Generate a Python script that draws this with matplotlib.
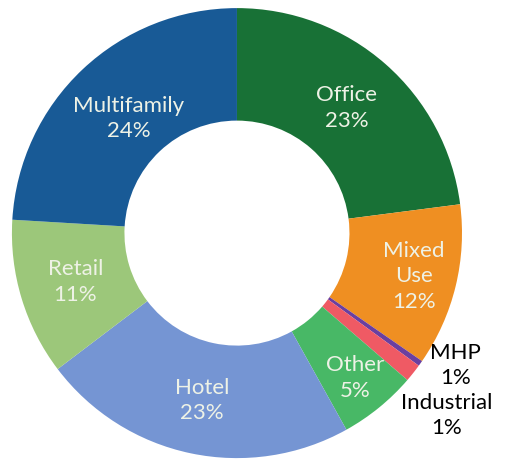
import numpy as np
import matplotlib.pyplot as plt
import matplotlib

matplotlib.rcParams['font.family'] = ['Lato', 'DejaVu Sans']

# slices, clockwise from 12 o'clock
categories = ['Office', 'Mixed\nUse', 'MHP', 'Industrial', 'Other', 'Hotel', 'Retail', 'Multifamily']
values = [23, 11.7, 0.4, 1.3, 5.6, 22.8, 11.3, 24.1]
pct_labels = ['23%', '12%', '1%', '1%', '5%', '23%', '11%', '24%']
colors = ['#187136', '#ef8f22', '#6a3fa0', '#ef5a64', '#48b866', '#7595d3', '#9cc77a', '#185a96']

fig = plt.figure(figsize=(5.07, 4.59), dpi=100)
ax = fig.add_axes([0, 0, 1, 1])

wedges, _ = ax.pie(values, colors=colors, startangle=90, counterclock=False,
                   radius=1, wedgeprops=dict(width=0.5, linewidth=0))

label_r = {0: 0.74, 1: 0.81, 4: 0.83, 5: 0.76, 6: 0.75, 7: 0.70}
for i, w in enumerate(wedges):
    if i not in label_r:
        continue
    ang = np.deg2rad((w.theta1 + w.theta2) / 2)
    r = label_r[i]
    ax.text(r * np.cos(ang), r * np.sin(ang), categories[i] + '\n' + pct_labels[i],
            ha='center', va='center', color='#eef2e6', fontsize=16, linespacing=1.35)

# the two thin slices get outside labels
ax.text(0.97, -0.59, categories[2] + '\n' + pct_labels[2], ha='center', va='center',
        color='black', fontsize=16, linespacing=1.3)
ax.text(0.93, -0.81, categories[3] + '\n' + pct_labels[3], ha='center', va='center',
        color='black', fontsize=16, linespacing=1.3)

ax.set_xlim(-1.053, 1.2)
ax.set_ylim(-1.004, 1.036)
ax.set_aspect('auto')
ax.axis('off')

fig.savefig('out.png', dpi=100)
